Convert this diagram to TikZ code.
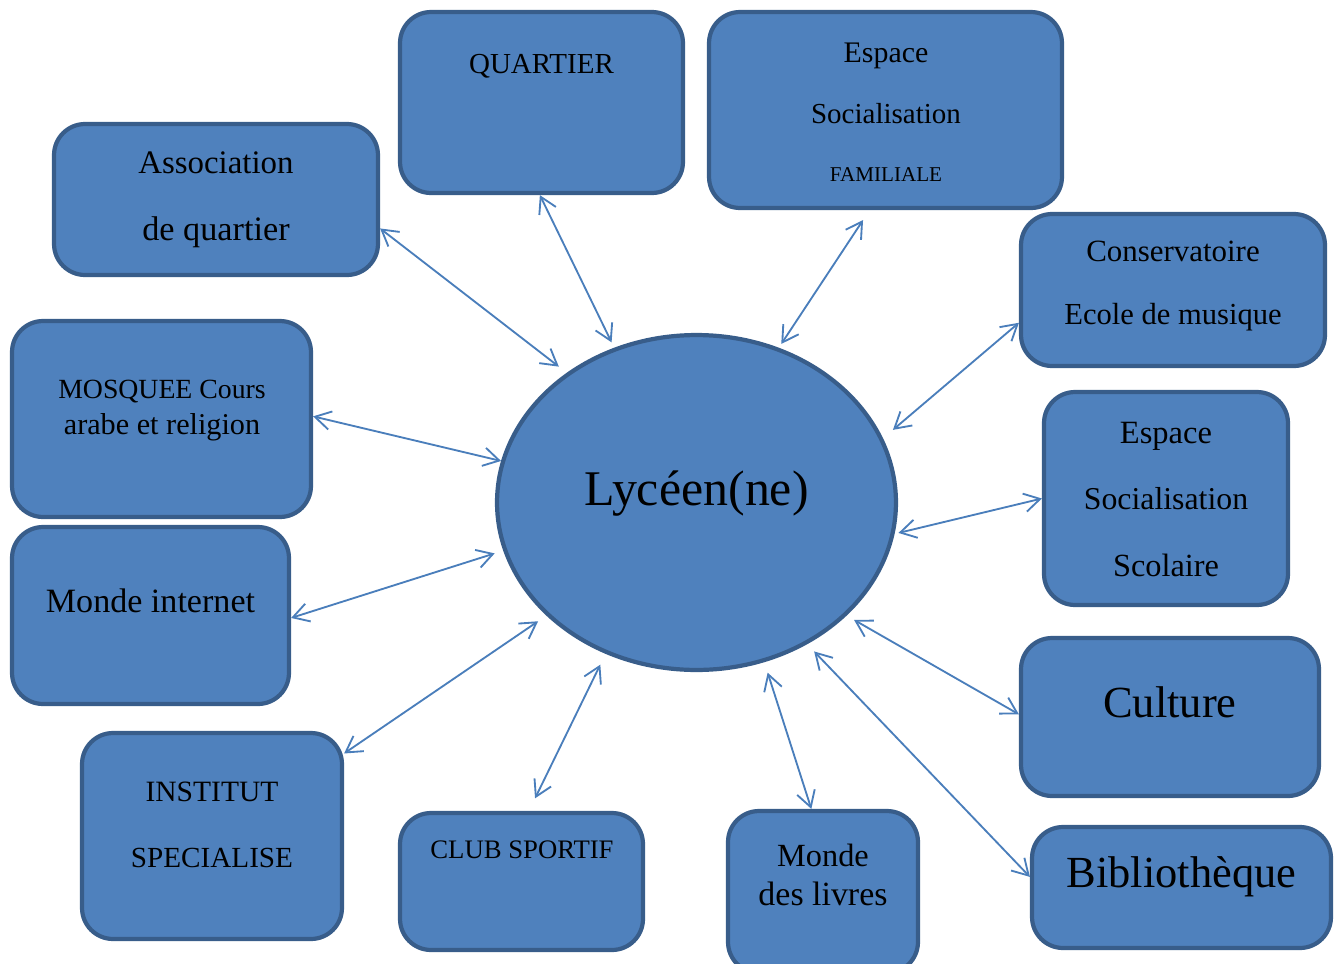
\documentclass[tikz,border=0pt]{standalone}
\usepackage{fontspec}
\setmainfont{Liberation Serif}
\usetikzlibrary{arrows.meta,shapes.geometric}
\definecolor{bleu}{HTML}{4F81BD}
\definecolor{bord}{HTML}{385D8A}
\definecolor{fleche}{HTML}{4A7EBB}
\tikzset{
    boite/.style={draw=bord,fill=bleu,line width=2.4pt,rounded corners=0.62cm,inner sep=0pt},
    eleve/.style={ellipse,draw=bord,fill=bleu,line width=2.4pt,inner sep=0pt},
    txt/.style={anchor=base,inner sep=0pt,font=\fontsize{#1}{#1}\selectfont},
    lien/.style={draw=fleche,line width=1.05pt,
        {Straight Barb[length=9pt,width=10.5pt]}-{Straight Barb[length=9pt,width=10.5pt]}},
}
\begin{document}
\begin{tikzpicture}[x=0.02cm,y=-0.02cm]
        \useasboundingbox (0,0) rectangle (1340,964);
        % cadres
        \node[boite,minimum width=5.66cm,minimum height=3.62cm] (quartier) at (541.5,102.5) {};
        \node[boite,minimum width=7.06cm,minimum height=3.92cm] (familiale) at (885.5,110) {};
        \node[boite,minimum width=6.48cm,minimum height=3.02cm] (assoc) at (216,199.5) {};
        \node[boite,minimum width=6.08cm,minimum height=3.04cm] (conserv) at (1173,290) {};
        \node[boite,minimum width=5.98cm,minimum height=3.92cm] (mosquee) at (161.5,419) {};
        \node[boite,minimum width=4.88cm,minimum height=4.26cm] (scolaire) at (1166,498.5) {};
        \node[boite,minimum width=5.54cm,minimum height=3.54cm] (internet) at (150.5,615.5) {};
        \node[boite,minimum width=5.96cm,minimum height=3.16cm] (culture) at (1170,717) {};
        \node[boite,minimum width=5.20cm,minimum height=4.12cm] (institut) at (212,836) {};
        \node[boite,minimum width=4.86cm,minimum height=2.74cm] (club) at (521.5,881.5) {};
        \node[boite,minimum width=3.80cm,minimum height=3.24cm] (livres) at (823,892) {};
        \node[boite,minimum width=5.98cm,minimum height=2.42cm] (biblio) at (1181.5,887.5) {};
        \node[eleve,minimum width=7.98cm,minimum height=6.70cm] (lyc) at (696.5,502.5) {};
        % textes
        \node[txt=16.5] (t-quartier) at (541.5,73) {QUARTIER};
        \node[txt=17] (t-fam1) at (886,62) {Espace};
        \node[txt=16.5] (t-fam2) at (886,123) {Socialisation};
        \node[txt=12] (t-fam3) at (886,181) {FAMILIALE};
        \node[txt=18.7] (t-assoc1) at (216,173) {Association};
        \node[txt=19.5] (t-assoc2) at (216,240) {de quartier};
        \node[txt=17.6] (t-conserv1) at (1173,261) {Conservatoire};
        \node[txt=17.4] (t-conserv2) at (1173,324) {Ecole de musique};
        \node[txt=15.8] (t-mosquee1) at (162,398) {MOSQUEE Cours};
        \node[txt=17.2] (t-mosquee2) at (162,434) {arabe et religion};
        \node[txt=18.5] (t-scol1) at (1166,443) {Espace};
        \node[txt=18.1] (t-scol2) at (1166,509) {Socialisation};
        \node[txt=18.4] (t-scol3) at (1166,576) {Scolaire};
        \node[txt=19.4] (t-internet) at (150.5,612) {Monde internet};
        \node[txt=25.3] (t-culture) at (1170,717) {Culture};
        \node[txt=16.8] (t-institut1) at (212,801) {INSTITUT};
        \node[txt=16.6] (t-institut2) at (212,867) {SPECIALISE};
        \node[txt=15.2] (t-club) at (522,858) {CLUB SPORTIF};
        \node[txt=18.4] (t-livres1) at (823,866) {Monde};
        \node[txt=19.3] (t-livres2) at (823,905) {des livres};
        \node[txt=25.3] (t-biblio) at (1181.5,887) {Bibliothèque};
        \node[txt=28.4] (t-lyc) at (696.5,505) {Lycéen(ne)};
        % liens
        \draw[lien,shorten <=0.2cm] (lyc.135.4) -- (assoc.-10.5);
        \draw[lien,shorten <=0.12cm] (lyc.118.5) -- (quartier.-91);
        \draw[lien,shorten <=0.09cm,shorten >=0.24cm] (lyc.62.6) -- (familiale.-99.4);
        \draw[lien,shorten <=0.26cm] (lyc.19.5) -- (conserv.-168.6);
        \draw[lien] (lyc.168) -- (mosquee.1.5);
        \draw[lien,shorten <=0.08cm] (lyc.-9.7) -- (scolaire.180.7);
        \draw[lien,shorten <=0.18cm] (lyc.-166) -- (internet.-1.8);
        \draw[lien,shorten <=0.2cm] (lyc.-143) -- (institut.32.2);
        \draw[lien,shorten <=0.24cm,shorten >=0.28cm] (lyc.-121) -- (club.84.9);
        \draw[lien,shorten <=0.22cm] (lyc.-67.4) -- (livres.98.6);
        \draw[lien,shorten <=0.17cm] (lyc.-37.4) -- (culture.179.2);
        \draw[lien,shorten <=0.2cm] (lyc.-52.7) -- (biblio.176.4);
\end{tikzpicture}
\end{document}
